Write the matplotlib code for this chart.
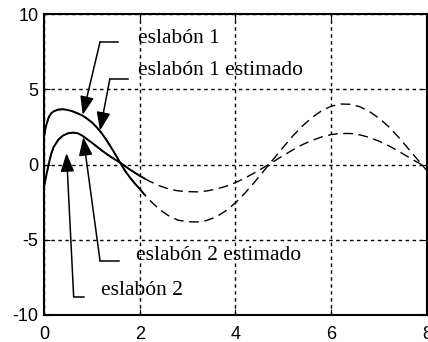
import matplotlib
matplotlib.use('Agg')
import matplotlib.pyplot as plt

plt.rcParams['axes.unicode_minus'] = False

# time samples (s), finer near the start where the transient is steep
t = [0.0, 0.03, 0.06, 0.1, 0.15, 0.2, 0.3, 0.4, 0.5, 0.6, 0.7, 0.8, 0.9,
     1.0, 1.1, 1.2, 1.3, 1.4, 1.5, 1.6, 1.7, 1.8, 1.9, 2.0, 2.1,
     2.2, 2.4, 2.6, 2.8, 3.0, 3.2, 3.4, 3.6, 3.8, 4.0, 4.2, 4.4, 4.6, 4.8,
     5.0, 5.2, 5.4, 5.6, 5.8, 6.0, 6.2, 6.4, 6.6, 6.8, 7.0, 7.2, 7.4, 7.6,
     7.8, 8.0]

# link 1 position
eslabon1 = [1.8, 2.4, 2.75, 3.15, 3.4, 3.53, 3.65, 3.67, 3.62, 3.53, 3.4,
            3.26, 3.05, 2.8, 2.48, 2.1, 1.65, 1.15, 0.62, 0.08, -0.45, -0.88,
            -1.27, -1.62, -2.0,
            -2.35, -2.95, -3.4, -3.7, -3.8, -3.82, -3.72, -3.48, -3.08,
            -2.55, -1.9, -1.17, -0.4, 0.38, 1.15, 1.9, 2.56, 3.12, 3.57,
            3.87, 4.02, 4.0, 3.84, 3.52, 3.08, 2.52, 1.85, 1.1, 0.35, -0.4]

# link 2 position
eslabon2 = [-1.5, -1.0, -0.55, 0.05, 0.7, 1.15, 1.65, 1.93, 2.07, 2.12,
            2.08, 1.92, 1.68, 1.45, 1.2, 0.95, 0.72, 0.5, 0.3, 0.1, -0.12,
            -0.35, -0.55, -0.75, -0.93,
            -1.1, -1.4, -1.62, -1.75, -1.8, -1.82, -1.76, -1.63, -1.45,
            -1.2, -0.9, -0.55, -0.18, 0.2, 0.6, 0.97, 1.32, 1.6, 1.83,
            1.99, 2.06, 2.06, 1.97, 1.8, 1.55, 1.25, 0.9, 0.52, 0.15, -0.2]

# measured part ends here, the estimate keeps going
t_fin = 2.1
n_med = t.index(t_fin) + 1

# labels: (text, text position, arrow tip, elbow, end of horizontal stub)
etiquetas = ['eslabón 1', 'eslabón 1 estimado', 'eslabón 2 estimado', 'eslabón 2']
pos_texto = [(1.96, 8.07), (1.96, 5.93), (1.93, -6.33), (1.19, -8.67)]
puntas = [(0.81, 3.3), (1.17, 2.25), (0.82, 1.82), (0.47, 0.75)]
codos = [(1.17, 8.13), (1.375, 5.67), (1.17, -6.38), (0.62, -8.78)]
extremos = [(1.54, 8.13), (1.75, 5.67), (1.57, -6.38), (0.83, -8.78)]

fig = plt.figure(figsize=(4.28, 3.42), dpi=100)
ax = fig.add_axes([0.1028, 0.079, 0.8945, 0.88])

ax.plot(t, eslabon1, color='k', lw=1.0, dashes=(7, 4))
ax.plot(t, eslabon2, color='k', lw=1.0, dashes=(7, 4))
ax.plot(t[:n_med], eslabon1[:n_med], color='k', lw=1.4)
ax.plot(t[:n_med], eslabon2[:n_med], color='k', lw=1.4)

for txt, p, tip, codo, ext in zip(etiquetas, pos_texto, puntas, codos, extremos):
    ax.plot([codo[0], ext[0]], [codo[1], ext[1]], color='k', lw=1.1)
    ax.annotate('', xy=tip, xytext=codo,
                arrowprops=dict(arrowstyle='-|>,head_length=0.75,head_width=0.28',
                                mutation_scale=15, color='k', lw=1.1,
                                shrinkA=0, shrinkB=0))
    ax.text(p[0], p[1], txt, family='Liberation Serif', fontsize=15.5,
            va='baseline', ha='left')

ax.set_xlim(0, 8)
ax.set_ylim(-10, 10)
ax.set_xticks([0, 2, 4, 6, 8])
ax.set_yticks([-10, -5, 0, 5, 10])
ax.grid(True, color='k', lw=1.0, linestyle=(0, (2.5, 2.5)))
ax.tick_params(direction='in', length=4, top=True, right=True, labelsize=13)
ax.tick_params(axis='x', pad=8)
ax.tick_params(axis='y', pad=4)
for lab in ax.get_xticklabels() + ax.get_yticklabels():
    lab.set_family('Liberation Sans')
for sp in ax.spines.values():
    sp.set_linewidth(1.5)

fig.savefig('out.png', dpi=100)
